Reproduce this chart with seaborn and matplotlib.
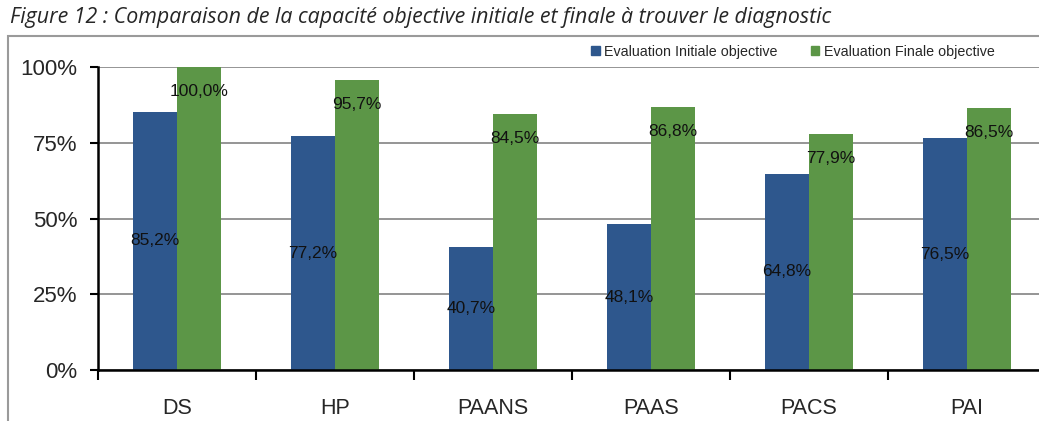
import pandas as pd
import numpy as np
import matplotlib
matplotlib.use('Agg')
import matplotlib.pyplot as plt
import matplotlib.patches as mpatches
import seaborn as sns

categories = ['DS', 'HP', 'PAANS', 'PAAS', 'PACS', 'PAI']
initiale = [85.2, 77.2, 40.7, 48.1, 64.8, 76.5]
finale = [100.0, 95.7, 84.5, 86.8, 77.9, 86.5]
series = ['Evaluation Initiale objective', 'Evaluation Finale objective']
colors = ['#2E578D', '#5C9647']

df = pd.DataFrame({'cat': categories * 2,
                   'serie': [series[0]] * 6 + [series[1]] * 6,
                   'val': [v / 100 for v in initiale + finale]})

sns.set_style('white')
plt.rcParams['font.family'] = ['Liberation Sans', 'DejaVu Sans']

fig = plt.figure(figsize=(10.39, 4.21), dpi=100)
ax = fig.add_axes([98 / 1039, 1 - 370 / 421, 948 / 1039, 303 / 421])

sns.barplot(data=df, x='cat', y='val', hue='serie', palette=colors, width=0.56,
            gap=0, saturation=1, ax=ax, legend=False, errorbar=None, linewidth=0)

fmt = lambda v: f'{v * 100:.1f}%'.replace('.', ',')
c0, c1 = ax.containers[0], ax.containers[1]
ax.bar_label(c0, labels=[fmt(p.get_height()) for p in c0], label_type='center', fontsize=12.5, color='#111111')
ax.bar_label(c1, labels=[fmt(p.get_height()) for p in c1], padding=-23, fontsize=12.5, color='#111111')

ax.set_ylim(0, 1)
ax.set_xlim(-0.5, 5.5)
ax.set_yticks([0, 0.25, 0.5, 0.75, 1.0])
ax.set_yticklabels(['0%', '25%', '50%', '75%', '100%'], fontsize=16)
ax.yaxis.grid(True, color='#8c8c8c', linewidth=1.3)
ax.set_axisbelow(True)
ax.tick_params(axis='y', which='major', left=True, length=6, width=1.5, direction='out', pad=9, color='black')
ax.tick_params(axis='x', which='major', bottom=False, labelsize=15.5, pad=17)
ax.set_xticks(np.arange(-0.5, 6, 1), minor=True)
ax.tick_params(axis='x', which='minor', bottom=True, length=7, width=1.5, direction='out', color='black')
ax.set_xlabel('')
ax.set_ylabel('')
for s in ['top', 'right']:
    ax.spines[s].set_visible(False)
for s in ['left', 'bottom']:
    ax.spines[s].set_color('black')
    ax.spines[s].set_linewidth(1.8)

# outer frame
fig.patches.append(mpatches.Rectangle((8 / 1039, -0.1), 1.2, 1 - 36 / 421 + 0.1, transform=fig.transFigure,
                                      fill=False, edgecolor='#9a9a9a', linewidth=1.5))

handles = [mpatches.Patch(color=c, label=l) for c, l in zip(colors, series)]
fig.legend(handles=handles, loc='center', bbox_to_anchor=(793 / 1039, 1 - 52 / 421), ncol=2, frameon=False,
           fontsize=10.3, handlelength=0.6, handleheight=0.6, handletextpad=0.3, columnspacing=2.3)

fig.text(10 / 1039, 1 - 17 / 421, 'Figure 12 : Comparaison de la capacité objective initiale et finale à trouver le diagnostic',
         fontsize=15.4, style='italic', family=['Open Sans', 'DejaVu Sans'], va='center', ha='left')

fig.savefig('out.png', dpi=100)
